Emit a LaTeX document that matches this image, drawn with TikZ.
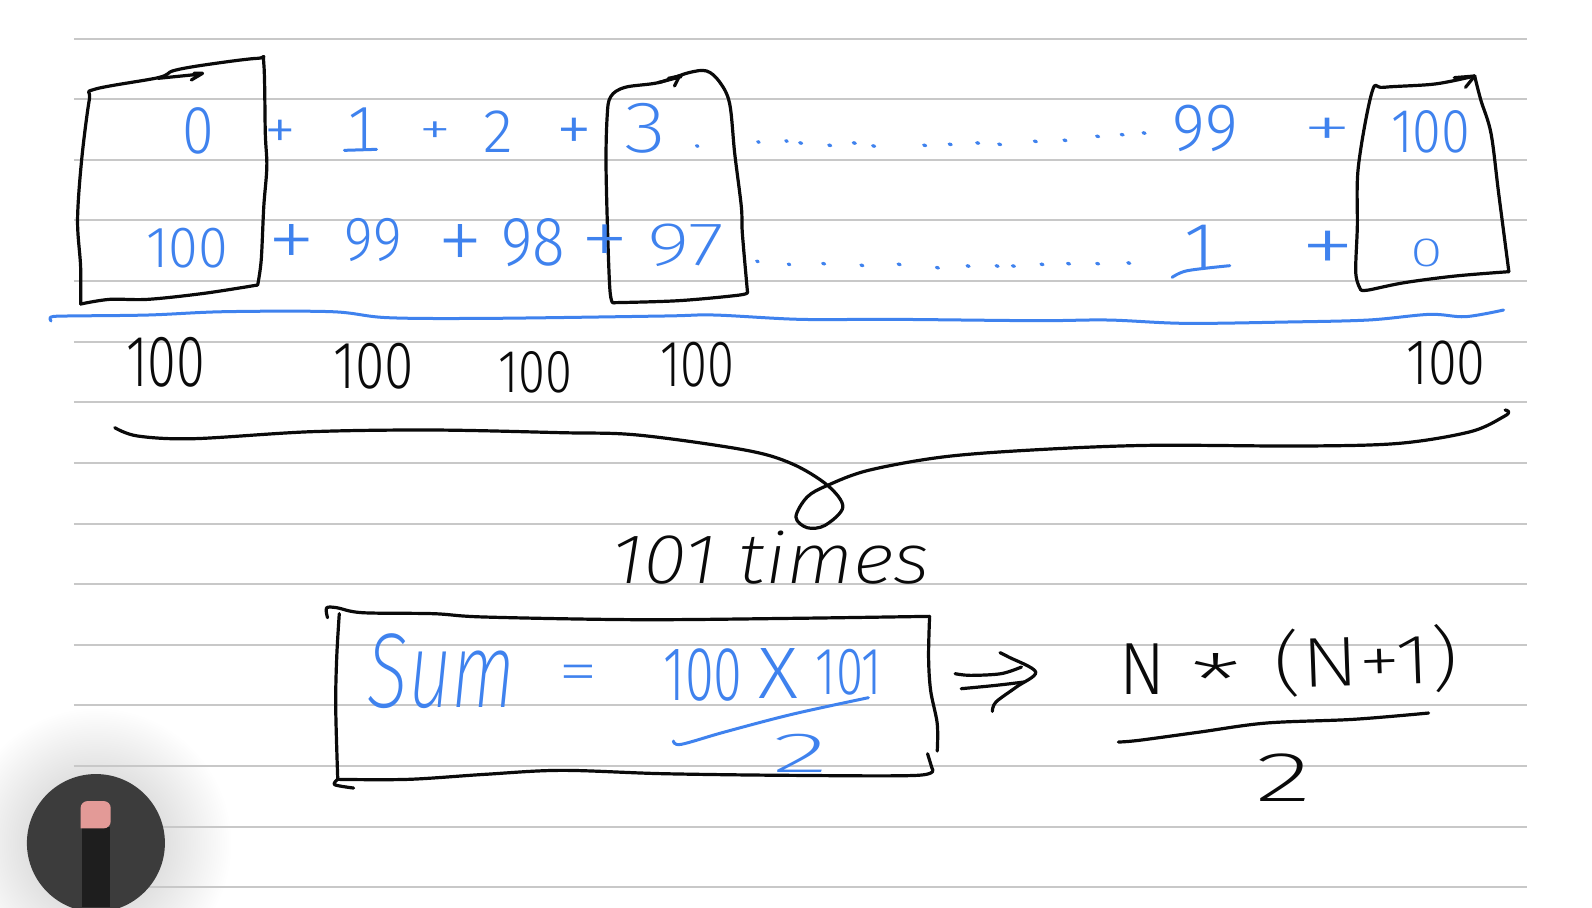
\documentclass[tikz,border=0pt]{standalone}
\usepackage{fontspec}
\usepackage{graphicx}
\newfontfamily\hand{Fira Sans}[UprightFont=* Light,ItalicFont=* Light Italic]
\newfontfamily\handthin{Fira Sans}[UprightFont=* ExtraLight,ItalicFont=* ExtraLight Italic]
\definecolor{ink}{HTML}{0A0A0A}
\definecolor{pen}{HTML}{3F82EE}
\definecolor{rule}{HTML}{C8C8C8}
\definecolor{disc}{HTML}{3C3C3C}
\definecolor{barrel}{HTML}{1E1E1E}
\definecolor{tip}{HTML}{E39A97}
\newlength\zx\setlength\zx{0.2551pt}
\newlength\zy\setlength\zy{0.16667pt}
\newcommand\hw[8][]{\node[inner sep=0pt,text=#7,#1] (#2) at (#3,#4) {\resizebox*{#5\zx}{#6\zy}{\hand #8}};}
\tikzset{
  blackstroke/.style={draw=ink,line width=1.6pt,line cap=round,line join=round},
  bluestroke/.style={draw=pen,line width=1.5pt,line cap=round,line join=round},
  bluedot/.style={draw=pen,line width=1.6pt,line cap=round},
  rulestyle/.style={draw=rule,line width=1pt},
  sk/.style={smooth,tension=0.55}
}
\begin{document}
\begin{tikzpicture}[x=0.2551pt,y=-0.16667pt]
\useasboundingbox (0,0) rectangle (3120.32,2721);
\fill[white] (0,0) rectangle (3120.32,2721);
% pencil button shadow
\shade[inner color=black!24,outer color=white] (188,2529) circle (68pt);
% ruled lines
\foreach \yy in {117,297,480,660,843,1026,1206,1388,1571,1752,1935,2115,2298,2481,2661}
  \draw[rulestyle] (145,\yy) -- (2993,\yy);
% pencil button
\fill[disc] (188,2529) circle (34.5pt);
\fill[barrel] (160,2480) rectangle (215,2721);
\fill[tip,rounded corners=3.5pt] (158,2485) -- (158,2403) -- (217,2403) -- (217,2485) [sharp corners] -- cycle;
% box 1
\draw[blackstroke] plot[sk] coordinates {(158,912)(158,800)(152,660)(160,480)(175,300)(185,268)(310,233)(340,212)(400,195)(505,175)(517,190)(520,400)(523,500)(517,620)(512,780)(505,855)};
\draw[blackstroke] plot[sk] coordinates {(505,855)(400,880)(290,898)(215,898)(158,912)};
\draw[blackstroke] (310,235) -- (395,222) (375,240) -- (397,220) -- (380,220);
% box 2
\draw[blackstroke] plot[sk] coordinates {(1203,908)(1195,860)(1188,520)(1190,350)(1197,290)(1225,262)(1290,248)(1350,218)(1385,213)(1410,245)(1430,310)(1440,460)(1453,620)(1455,700)(1465,875)};
\draw[blackstroke] plot[sk] coordinates {(1465,875)(1450,885)(1330,902)(1203,908)};
\draw[blackstroke] (1290,248) -- (1335,230) (1322,258) -- (1332,228) -- (1310,235);
% row labels left half
\hw{n0a}{388}{394}{62}{140}{pen}{0}
\hw{pa1}{550}{403}{62}{88}{pen}{+}
\hw{n1a}{708}{385}{50}{125}{pen}{1}
\draw[bluestroke] (675,451) -- (738,448);
\hw{pa2}{853}{400}{62}{68}{pen}{+}
\hw{n2a}{977}{395}{58}{125}{pen}{2}
\hw{pa3}{1125}{404}{70}{100}{pen}{+}
\hw{n3a}{1265}{385}{82}{150}{pen}{\handthin 3}
\hw{n100b}{367}{745}{160}{120}{pen}{100}
\hw{pb1}{572}{742}{95}{135}{pen}{\handthin +}
\hw{n99b}{732}{720}{112}{130}{pen}{99}
\hw{pb2}{902}{746}{90}{144}{pen}{\handthin +}
\hw{n98b}{1045}{728}{125}{145}{pen}{98}
\hw{pb3}{1185}{738}{96}{125}{pen}{\handthin +}
\hw{n97b}{1345}{735}{150}{128}{pen}{\handthin 97}
\hw{r1}{325}{1088}{155}{150}{ink}{100}
\hw{r2}{732}{1098}{158}{138}{ink}{100}
\hw{r3}{1050}{1118}{145}{125}{ink}{100}
\hw{r4}{1367}{1095}{145}{135}{ink}{100}
% dots, left
\foreach \dx/\dy in {1365/437,1485/425,1540/422,1483/783,1545/792}
  \draw[bluedot] (\dx,\dy) -- ++(3,2);
% blue sum line
\draw[bluestroke] plot[sk] coordinates {(100,963)(100,951)(130,948)(290,945)(440,935)(650,935)(760,953)(960,955)(1300,948)(1400,945)(1568,958)(1752,958)(2032,962)(2172,960)(2322,970)(2522,966)(2682,960)(2802,943)(2872,950)(2947,930)};
% long brace
\draw[blackstroke] plot[sk] coordinates {(225,1283)(270,1308)(380,1316)(610,1295)(850,1290)(1100,1298)(1250,1305)(1460,1350)(1552,1391)(1622,1456)(1652,1521)(1617,1576)(1582,1583)(1560,1551)(1582,1491)(1622,1456)(1702,1411)(1847,1371)(2022,1350)(2252,1336)(2552,1338)(2742,1330)(2882,1295)(2947,1250)(2957,1235)(2950,1230)};
% upper right part
\begin{scope}[xshift=396pt]
\draw[blackstroke] plot[sk] coordinates {(1115,870)(1105,820)(1108,680)(1110,500)(1137,275)(1160,262)(1260,252)(1338,228)};
\draw[blackstroke] plot[sk] coordinates {(1338,228)(1350,300)(1370,400)(1385,580)(1405,815)};
\draw[blackstroke] plot[sk] coordinates {(1405,815)(1300,828)(1200,848)(1130,870)(1115,870)};
\draw[blackstroke] (1298,233) -- (1338,228) -- (1320,262);
\foreach \dx/\dy in {15/428,72/435,120/428,158/437,258/435,308/432,362/428,405/432,475/423,533/420,597/408,645/403,688/398,60/790,135/795,208/792,283/802,343/797,400/797,432/797,488/792,540/790,597/790,658/788}
  \draw[bluedot] (\dx,\dy) -- ++(4,2);
\hw{n99a}{810}{385}{128}{140}{pen}{99}
\hw{pa4}{1050}{398}{98}{88}{pen}{\handthin +}
\hw{n100a}{1252}{395}{155}{128}{pen}{100}
\hw{n1b}{800}{740}{60}{130}{pen}{1}
\draw[bluestroke] plot[sk] coordinates {(745,832)(775,812)(858,797)};
\hw{pb4}{1050}{758}{108}{130}{pen}{\handthin +}
\hw{n0b}{1244}{760}{64}{84}{pen}{\handthin 0}
\hw{r5}{1282}{1088}{155}{133}{ink}{100}
\end{scope}
% lower half
\begin{scope}[yshift=-228.5pt]
\hw{times}{1511}{303}{625}{160}{ink}{\handthin\itshape 101 times}
% result frame
\draw[blackstroke] plot[sk] coordinates {(642,482)(640,453)(660,452)(710,467)(850,470)(950,480)(1250,488)(1552,484)(1822,478)};
\draw[blackstroke] plot[sk] coordinates {(1822,478)(1820,600)(1824,700)(1837,800)(1837,882)};
\draw[blackstroke] plot[sk] coordinates {(665,470)(660,600)(658,750)(662,967)};
\draw[blackstroke] plot[sk] coordinates {(1818,890)(1827,935)};
\draw[blackstroke] plot[sk] coordinates {(1827,935)(1797,955)(1552,955)(1300,950)(1100,940)(950,952)(800,967)(662,967)};
\draw[blackstroke] plot[sk] coordinates {(662,967)(656,983)(693,993)};
\hw{sum}{866}{642}{290}{225}{pen}{\handthin\itshape Sum}
\hw{eq}{1133}{666}{78}{82}{pen}{\handthin =}
\hw{n100c}{1378}{655}{155}{158}{pen}{100}
\hw{times2}{1525}{648}{78}{150}{pen}{X}
\hw{n101c}{1664}{645}{130}{138}{pen}{101}
\draw[bluestroke] plot[sk] coordinates {(1320,852)(1335,862)(1420,825)(1552,772)(1702,722)};
\hw{n2c}{1570}{890}{110}{115}{pen}{\handthin 2}
% implication arrow
\draw[blackstroke] plot[sk] coordinates {(1872,650)(1902,655)(1962,650)(2002,630)};
\draw[blackstroke] plot[sk] coordinates {(1884,695)(1952,685)(2007,675)};
\draw[blackstroke] plot[sk] coordinates {(1960,587)(1977,600)(2030,645)(1992,690)(1952,735)(1945,763)};
% general formula
\hw{nN}{2240}{636}{90}{152}{ink}{N}
\hw{star}{2384}{672}{100}{165}{ink}{\handthin *}
\hw[rotate=2]{nfrac}{2677}{612}{362}{205}{ink}{\handthin (N+1)}
\draw[blackstroke] plot[sk] coordinates {(2192,855)(2232,850)(2352,825)(2482,798)(2652,787)(2800,768)};
\hw{n2d}{2515}{962}{110}{143}{ink}{\handthin 2}
\end{scope}
\end{tikzpicture}
\end{document}
